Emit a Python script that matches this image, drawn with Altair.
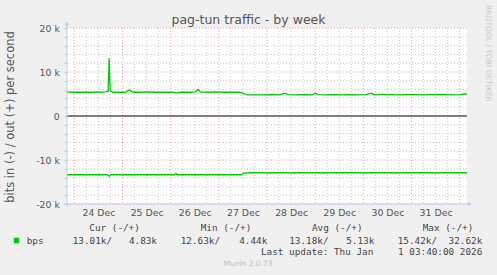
import altair as alt
import pandas as pd

TITLE = "pag-tun traffic - by week"
Y_TITLE = "bits in (-) / out (+) per second"
START = "2025-12-23T20:20:00Z"
END = "2026-01-01T03:40:00Z"

# out (+) series: hours since START, value in k bits/s
out_hours = [0, 2, 4, 6, 9, 12, 14.5, 17, 19, 20.5, 21, 21.5, 23, 26, 29, 31, 33, 36, 40, 44,
             48, 52, 54.5, 57, 61, 64, 65.3, 66.5, 70, 74, 78, 82, 85.5, 87, 88.5, 90, 94, 98,
             102, 106, 108.6, 110, 114, 118, 122, 123.6, 125, 129, 133, 137, 141, 145, 149,
             151.8, 153, 157, 161, 165, 169, 173, 177, 181, 185, 189, 193, 196, 198, 199.3]
out_k = [5.5, 5.4, 5.4, 5.4, 5.4, 5.4, 5.5, 5.4, 5.5, 5.6, 13.1, 5.7, 5.4, 5.4, 5.4, 5.9, 5.4, 5.4, 5.5, 5.4,
         5.4, 5.4, 5.3, 5.4, 5.4, 5.5, 6.0, 5.5, 5.4, 5.5, 5.4, 5.4, 5.4, 5.3, 5.0, 4.8, 4.8, 4.8,
         4.85, 4.8, 5.2, 4.85, 4.8, 4.85, 4.8, 5.2, 4.85, 4.8, 4.85, 4.8, 4.85, 4.8, 4.85,
         5.2, 4.8, 4.85, 4.85, 4.8, 4.85, 4.85, 4.8, 4.85, 4.9, 4.85, 4.8, 4.85, 5.0, 5.0]

# in (-) series
in_hours = [0, 4, 8, 12, 16, 20, 21, 22, 26, 30, 34, 38, 42, 46, 50, 53.5, 54.3, 55, 59, 63, 67,
            71, 75, 79, 83, 87, 88, 92, 96, 100, 104, 108, 112, 116, 120, 124, 128, 132, 136,
            140, 144, 148, 152, 156, 160, 164, 168, 172, 176, 180, 184, 188, 192, 196, 199.3]
in_k = [-13.35, -13.35, -13.35, -13.35, -13.35, -13.35, -13.7, -13.35, -13.35, -13.35, -13.35,
        -13.35, -13.35, -13.35, -13.35, -13.35, -13.05, -13.35, -13.35, -13.35, -13.35,
        -13.35, -13.35, -13.35, -13.35, -13.35, -13.0, -12.9, -12.85, -12.95, -12.9, -12.85,
        -12.95, -12.9, -12.85, -12.9, -12.95, -12.85, -12.9, -12.9, -12.85, -12.95, -12.9,
        -12.85, -12.9, -12.95, -12.85, -12.9, -12.85, -12.9, -12.95, -12.85, -12.9, -12.85, -12.9]

day_labels = ["2025-12-24", "2025-12-25", "2025-12-26", "2025-12-27",
              "2025-12-28", "2025-12-29", "2025-12-30", "2025-12-31"]
stat_headers = ["Cur (-/+)", "Min (-/+)", "Avg (-/+)", "Max (-/+)"]
stat_in = ["13.01k/", "12.63k/", "13.18k/", "15.42k/"]
stat_out = ["4.83k", "4.44k", "5.13k", "32.62k"]
series_name = "bps"
last_update_a = "Last update: Thu Jan"
last_update_b = "1 03:40:00 2026"
version = "Munin 2.0.73"
watermark = "RRDTOOL / TOBI OETIKER"

start = pd.Timestamp(START)
end = pd.Timestamp(END)


def iso(ts):
    return ts.strftime("%Y-%m-%dT%H:%M:%SZ")


def ms(ts):
    return int(ts.value // 10**6)


df = pd.DataFrame({
    "t": [iso(start + pd.Timedelta(hours=h)) for h in out_hours]
         + [iso(start + pd.Timedelta(hours=h)) for h in in_hours],
    "v": [k * 1000 for k in out_k] + [k * 1000 for k in in_k],
    "s": ["out"] * len(out_k) + ["in"] * len(in_k),
})

midnights = pd.date_range(pd.Timestamp("2025-12-24T00:00:00Z"),
                          pd.Timestamp("2026-01-01T00:00:00Z"), freq="D")
six_hours = pd.date_range(pd.Timestamp("2025-12-24T00:00:00Z"), end, freq="6h")
minor_v = [iso(t) for t in six_hours if t.hour != 0]
major_v = [iso(t) for t in midnights]
minor_h = [v for v in range(-18000, 20000, 2000) if v % 10000 != 0]
major_h = [-20000, -10000, 10000, 20000]

xscale = alt.Scale(type="utc", domain=[ms(start), ms(end)])
yscale = alt.Scale(domain=[-20000, 20000], nice=False, zero=False)

L, T = 67, 28  # plot origin in page pixels
GRAY_GRID = "#c8c8c8"
RED_GRID = "#eca0a0"
AXIS_COL = "#c4ccf2"

xaxis = alt.Axis(
    values=[ms(pd.Timestamp(d + "T12:00:00Z")) for d in day_labels],
    labelExpr="utcFormat(datum.value, '%d %b')",
    title=None, domain=False, ticks=False, tickSize=0, grid=False,
    labelFont="DejaVu Sans", labelFontSize=9.33, labelColor="#555555",
    labelPadding=4, labelFlush=False, labelOverlap=False)
yaxis = alt.Axis(
    values=list(range(-20000, 20001, 2000)),
    labelExpr="datum.value % 10000 != 0 ? '' : (datum.value == 0 ? '0\u00a0\u00a0' : "
              "(datum.value < 0 ? '-' : '') + (abs(datum.value) / 1000) + ' k')",
    title=None, domain=False, tickSize=3, tickColor="#c8c8c8", grid=False,
    labelFont="DejaVu Sans", labelFontSize=9.33, labelColor="#555555",
    labelPadding=4.7, labelFlush=False, labelOverlap=False)

X = alt.X("t:T", scale=xscale, axis=xaxis)
Y = alt.Y("v:Q", scale=yscale, axis=yaxis)

vminor = alt.Chart(pd.DataFrame({"t": minor_v})).mark_rule(
    color=GRAY_GRID, strokeDash=[1, 2], strokeWidth=1).encode(x=X)
vmajor = alt.Chart(pd.DataFrame({"t": major_v})).mark_rule(
    color=RED_GRID, strokeDash=[1, 2], strokeWidth=1).encode(x=X)
hminor = alt.Chart(pd.DataFrame({"v": minor_h})).mark_rule(
    color=GRAY_GRID, strokeDash=[1, 2], strokeWidth=1).encode(y=Y)
hmajor = alt.Chart(pd.DataFrame({"v": major_h})).mark_rule(
    color=RED_GRID, strokeDash=[1, 2], strokeWidth=1).encode(y=Y)
zero = alt.Chart(pd.DataFrame({"v": [0]})).mark_rule(
    color="#000000", strokeWidth=1.2).encode(y=Y)

lines = alt.Chart(df).mark_line(color="#00cc00", strokeWidth=1.3).encode(
    x=X, y=Y, detail="s:N")

one = pd.DataFrame({"a": [0]})
yaxis_line = alt.Chart(one).mark_rule(color=AXIS_COL, strokeWidth=1).encode(
    x=alt.value(0), y=alt.value(-5), y2=alt.value(179))
xaxis_line = alt.Chart(one).mark_rule(color=AXIS_COL, strokeWidth=1).encode(
    y=alt.value(176), x=alt.value(-3), x2=alt.value(402))
arrow_up = alt.Chart(one).mark_point(shape="triangle-up", filled=True, size=22,
                                     color=AXIS_COL, opacity=1).encode(
    x=alt.value(0), y=alt.value(23.5 - T))
arrow_right = alt.Chart(one).mark_point(shape="triangle-right", filled=True, size=22,
                                        color=AXIS_COL, opacity=1).encode(
    x=alt.value(470 - L), y=alt.value(176))
legend_box = alt.Chart(one).mark_square(size=30, color="#00cc00", opacity=1).encode(
    x=alt.value(16.5 - L), y=alt.value(240.5 - T))


def label(s, x, y, align="left", font="DejaVu Sans Mono", size=9.33,
          color="#444444", angle=0):
    return alt.Chart(pd.DataFrame({"s": [s]})).mark_text(
        align=align, baseline="middle", font=font, fontSize=size,
        color=color, angle=angle).encode(
        text="s:N", x=alt.value(x - L), y=alt.value(y - T))


texts = [
    label(TITLE, 248.5, 19.5, align="center", font="DejaVu Sans", size=12.5, color="#555555"),
    label(Y_TITLE, 11, 117, align="center", font="DejaVu Sans", size=11.5,
          color="#555555", angle=270),
    label(watermark, 488, 53.5, align="center", font="DejaVu Sans", size=7.5,
          color="#c8c8c8", angle=90),
    label(series_name, 26.7, 240.5),
    label(last_update_a, 261, 251.5),
    label(last_update_b, 482.3, 251.5, align="right"),
    label(version, 248, 264, align="center", font="DejaVu Sans", size=7.5, color="#c0c0c0"),
]
head_x = [89.3, 200.7, 312, 422.7]
in_x = [112, 220, 328.5, 437]
out_x = [157, 267.3, 374.3, 482.3]
for i in range(4):
    texts.append(label(stat_headers[i], head_x[i], 228))
    texts.append(label(stat_in[i], in_x[i], 240.5, align="right"))
    texts.append(label(stat_out[i], out_x[i], 240.5, align="right"))

chart = alt.layer(
    vminor, vmajor, hminor, hmajor, zero, lines,
    yaxis_line, xaxis_line, arrow_up, arrow_right, legend_box, *texts
).properties(
    width=400, height=176,
    padding={"left": L, "top": T, "right": 30, "bottom": 71},
    autosize=alt.AutoSizeParams(type="none"),
    background="#f0f0f0",
).configure_view(fill="white", stroke=None)

chart.save("out.html", embed_options={"renderer": "svg", "actions": False})
